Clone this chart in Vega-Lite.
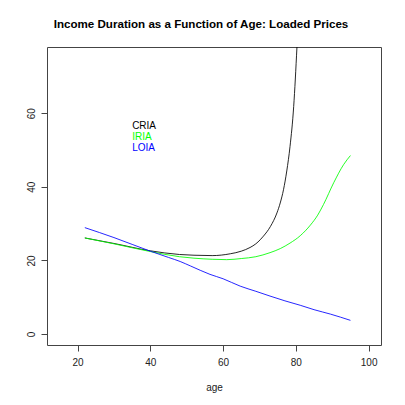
{
  "$schema": "https://vega.github.io/schema/vega-lite/v6.json",
  "width": 334,
  "height": 298,
  "autosize": {"type": "none"},
  "padding": {"left": 47, "top": 47, "right": 24, "bottom": 60},
  "background": "white",
  "config": {
    "view": {"stroke": "#444444", "strokeWidth": 1},
    "font": "Liberation Sans"
  },
  "title": {
    "text": "Income Duration as a Function of Age: Loaded Prices",
    "fontSize": 11.6,
    "fontWeight": "bold",
    "font": "Liberation Sans",
    "color": "black",
    "anchor": "middle",
    "dx": -13,
    "offset": 7,
    "baseline": "alphabetic"
  },
  "datasets": {
    "curves": [
      {"series": "CRIA", "age": 22, "value": 26.1},
      {"series": "CRIA", "age": 30, "value": 24.6},
      {"series": "CRIA", "age": 40, "value": 22.6},
      {"series": "CRIA", "age": 48, "value": 21.6},
      {"series": "CRIA", "age": 52, "value": 21.4},
      {"series": "CRIA", "age": 57, "value": 21.3},
      {"series": "CRIA", "age": 62, "value": 21.8},
      {"series": "CRIA", "age": 65, "value": 22.5},
      {"series": "CRIA", "age": 67.4, "value": 23.5},
      {"series": "CRIA", "age": 69, "value": 24.5},
      {"series": "CRIA", "age": 70.2, "value": 25.6},
      {"series": "CRIA", "age": 71.1, "value": 26.6},
      {"series": "CRIA", "age": 73, "value": 29.2},
      {"series": "CRIA", "age": 74.8, "value": 32.9},
      {"series": "CRIA", "age": 75.7, "value": 35.6},
      {"series": "CRIA", "age": 76.6, "value": 39.2},
      {"series": "CRIA", "age": 77.5, "value": 44.3},
      {"series": "CRIA", "age": 78.4, "value": 51.0},
      {"series": "CRIA", "age": 79.4, "value": 61.8},
      {"series": "CRIA", "age": 80.3, "value": 78},
      {"series": "CRIA", "age": 81, "value": 93},
      {"series": "IRIA", "age": 22, "value": 26.1},
      {"series": "IRIA", "age": 30, "value": 24.5},
      {"series": "IRIA", "age": 40, "value": 22.4},
      {"series": "IRIA", "age": 48, "value": 21.0},
      {"series": "IRIA", "age": 52, "value": 20.6},
      {"series": "IRIA", "age": 57, "value": 20.3},
      {"series": "IRIA", "age": 61, "value": 20.2},
      {"series": "IRIA", "age": 65, "value": 20.5},
      {"series": "IRIA", "age": 69, "value": 21.0},
      {"series": "IRIA", "age": 72.9, "value": 22.1},
      {"series": "IRIA", "age": 75.7, "value": 23.2},
      {"series": "IRIA", "age": 78.4, "value": 24.7},
      {"series": "IRIA", "age": 81.2, "value": 26.7},
      {"series": "IRIA", "age": 84, "value": 29.6},
      {"series": "IRIA", "age": 86, "value": 32.3},
      {"series": "IRIA", "age": 87.6, "value": 35.2},
      {"series": "IRIA", "age": 90.4, "value": 41.1},
      {"series": "IRIA", "age": 93.1, "value": 46.0},
      {"series": "IRIA", "age": 95, "value": 48.5},
      {"series": "LOIA", "age": 22, "value": 28.9},
      {"series": "LOIA", "age": 30, "value": 26.2},
      {"series": "LOIA", "age": 40, "value": 22.5},
      {"series": "LOIA", "age": 45, "value": 20.8},
      {"series": "LOIA", "age": 48.2, "value": 19.7},
      {"series": "LOIA", "age": 51, "value": 18.5},
      {"series": "LOIA", "age": 56.4, "value": 16.2},
      {"series": "LOIA", "age": 60, "value": 15.0},
      {"series": "LOIA", "age": 64.7, "value": 13.0},
      {"series": "LOIA", "age": 69, "value": 11.6},
      {"series": "LOIA", "age": 72.9, "value": 10.3},
      {"series": "LOIA", "age": 77, "value": 9.0},
      {"series": "LOIA", "age": 81.2, "value": 7.8},
      {"series": "LOIA", "age": 85, "value": 6.6},
      {"series": "LOIA", "age": 89.5, "value": 5.4},
      {"series": "LOIA", "age": 95, "value": 3.7}
    ],
    "labels": [
      {"series": "CRIA", "age": 35, "value": 57},
      {"series": "IRIA", "age": 35, "value": 54},
      {"series": "LOIA", "age": 35, "value": 51}
    ]
  },
  "layer": [
    {
      "data": {"name": "curves"},
      "mark": {"type": "line", "clip": true, "strokeWidth": 0.85, "interpolate": "monotone"},
      "encoding": {
        "x": {
          "field": "age",
          "type": "quantitative",
          "scale": {"domain": [11.6, 103.4], "nice": false, "zero": false},
          "axis": {
            "values": [20, 40, 60, 80, 100],
            "domain": false,
            "grid": false,
            "ticks": true,
            "tickSize": 6,
            "tickColor": "#444444",
            "labelFontSize": 10,
            "labelColor": "#222222",
            "labelPadding": 6,
            "labelFont": "Liberation Sans",
            "title": "age",
            "titleFontSize": 10,
            "titleFontWeight": "normal",
            "titleColor": "#222222",
            "titleFont": "Liberation Sans",
            "titlePadding": 15
          }
        },
        "y": {
          "field": "value",
          "type": "quantitative",
          "scale": {"domain": [-3, 78], "nice": false, "zero": false},
          "axis": {
            "values": [0, 20, 40, 60],
            "domain": false,
            "grid": false,
            "ticks": true,
            "tickSize": 6,
            "tickColor": "#444444",
            "labelFontSize": 10,
            "labelColor": "#222222",
            "labelPadding": 5,
            "labelAngle": -90,
            "labelFont": "Liberation Sans",
            "title": null
          }
        },
        "color": {
          "field": "series",
          "type": "nominal",
          "scale": {"domain": ["CRIA", "IRIA", "LOIA"], "range": ["#000000", "#00ff00", "#0000ff"]},
          "legend": null
        }
      }
    },
    {
      "data": {"name": "labels"},
      "mark": {"type": "text", "align": "left", "baseline": "middle", "dy": 2, "fontSize": 10, "font": "Liberation Sans"},
      "encoding": {
        "x": {"field": "age", "type": "quantitative"},
        "y": {"field": "value", "type": "quantitative"},
        "text": {"field": "series"},
        "color": {"field": "series", "type": "nominal", "legend": null}
      }
    }
  ]
}
